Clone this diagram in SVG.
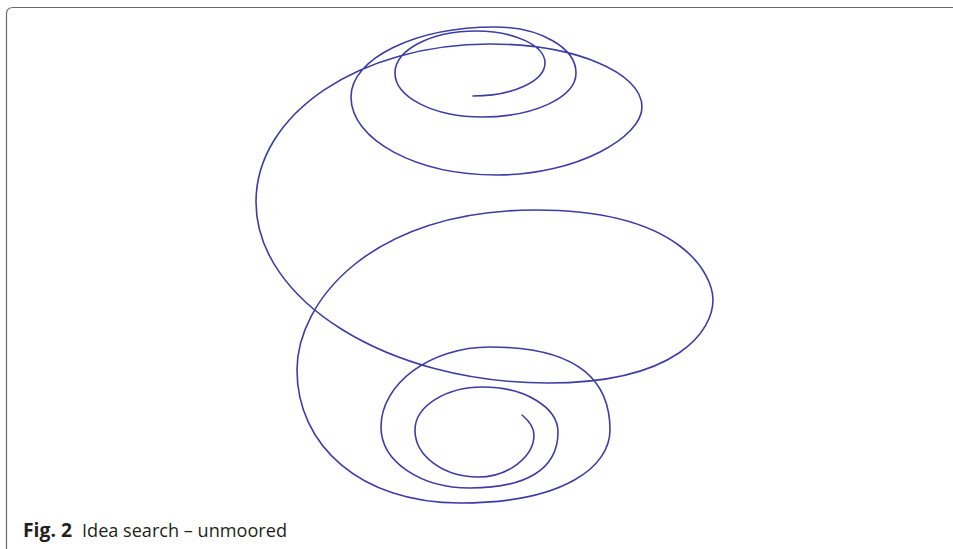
<svg xmlns="http://www.w3.org/2000/svg" width="953" height="549" viewBox="0 0 953 549">
<style>
.frame{fill:none;stroke:#6a6a6a;stroke-width:1.2}
.spiral{fill:none;stroke:#3d3da6;stroke-width:1.6;stroke-linejoin:round;stroke-linecap:round}
.cap{font-family:"Open Sans","Noto Sans","Liberation Sans",sans-serif;font-size:19px;fill:#231f20}
</style>
<rect width="953" height="549" fill="#ffffff"/>
<path id="frame" class="frame" d="M6.5,549 V14 Q6.5,7.5 13,7.5 H953"/>
<path id="spiral" class="spiral" d="M473,96
C513,96 545,81 545,63
C545,45.3 514,31 476,31
C431.3,31 395,49.8 395,73
C395,97.3 434,117 482,117
C533.9,117 576,97.3 576,73
C576,47.6 539.7,27 495,27
C415.5,27 351,58.4 351,97
C351,140 416.4,175 497,175
C577,175 642,137 642,107
C642,72.2 573.9,44 490,44
C361,44 256,113 256,202
C256,300 387,383 548,383
C678,383 713,330 713,300
C713,276 684,210 535,210
C371,210 297,302 297,370
C297,445 360,503 460,503
C565,503 610,466 610,430
C610,375 570,347 490,347
C429.8,347 381,384 381,427
C381,462 421,488 470,488
C525,488 558,470 558,432
C558,407.2 524.4,387 483,387
C445.5,387 415,406.3 415,430
C415,455.9 443.2,477 478,477
C508.4,477 534,456.5 534,435
C534,427 528,420 522,415"/>
<g id="caption" class="cap">
<text x="23" y="537" font-weight="bold" textLength="49" lengthAdjust="spacingAndGlyphs">Fig. 2</text>
<text x="82" y="537" textLength="205" lengthAdjust="spacingAndGlyphs">Idea search – unmoored</text>
</g>
</svg>
